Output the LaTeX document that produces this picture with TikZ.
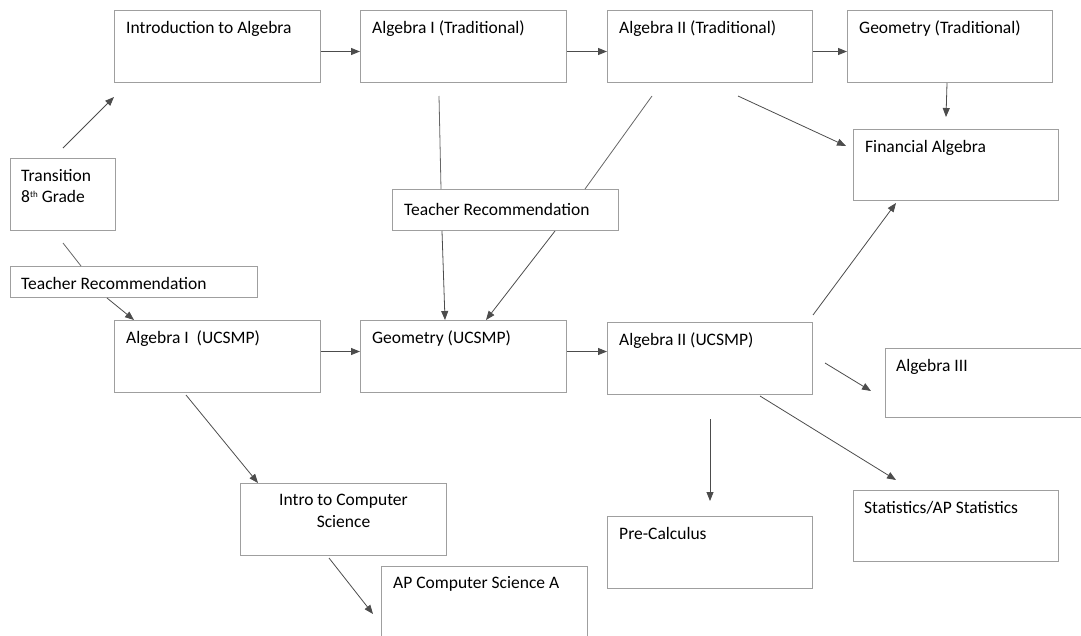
\documentclass[tikz,border=0pt]{standalone}
\usepackage{fontspec}
\setmainfont{Carlito}
\usetikzlibrary{arrows.meta}
\tikzset{
  course/.style={draw=gray!75,line width=1pt,minimum width=206pt,minimum height=72pt,anchor=north west,inner sep=0pt},
  txt/.style={anchor=base west,inner sep=0pt,text=black,font=\fontsize{17.5}{21.5}\selectfont},
  arr/.style={-{Triangle[length=9pt,width=7pt]},line width=0.8pt,black!70},
  ln/.style={line width=0.8pt,black!60}
}
\begin{document}
\begin{tikzpicture}[x=1pt,y=-1pt]
\useasboundingbox (0,0) rectangle (1081,635);
% top row
\node[course] (intro) at (114,10) {};
\node[course] (alg1t) at (360,10) {};
\node[course,minimum width=205pt] (alg2t) at (607,10) {};
\node[course,minimum width=205pt] (geot) at (847,10) {};
\node[txt] (introtxt) at ([shift={(12,23)}]intro.north west) {Introduction to Algebra};
\node[txt] (alg1ttxt) at ([shift={(12,23)}]alg1t.north west) {Algebra I (Traditional)};
\node[txt] (alg2ttxt) at ([shift={(12,23)}]alg2t.north west) {Algebra II (Traditional)};
\node[txt] (geottxt) at ([shift={(12,23)}]geot.north west) {Geometry (Traditional)};
% left side
\node[course,minimum width=105pt] (trans) at (10,158) {};
\node[txt,anchor=north west,align=left] (transtxt) at ([shift={(11,11)}]trans.north west) {Transition\\8{\fontsize{9}{9}\selectfont\raisebox{5pt}{th}} Grade};
\node[course,minimum width=247pt,minimum height=31pt] (rec1) at (10,266) {};
\node[txt] (rec1txt) at ([shift={(11,23)}]rec1.north west) {Teacher Recommendation};
\node[course,minimum width=226pt,minimum height=41pt] (rec2) at (392,189) {};
\node[txt] (rec2txt) at ([shift={(12,26)}]rec2.north west) {Teacher Recommendation};
\node[course,minimum width=205pt,minimum height=71pt] (fin) at (853,129) {};
\node[txt] (fintxt) at ([shift={(12,23)}]fin.north west) {Financial Algebra};
% UCSMP row
\node[course] (alg1u) at (114,320) {};
\node[course] (geou) at (360,320) {};
\node[course,minimum width=205pt] (alg2u) at (607,322) {};
\node[course,minimum width=205pt,minimum height=69pt] (alg3) at (885,348) {};
\node[txt] (alg1utxt) at ([shift={(12,23)}]alg1u.north west) {Algebra I\ \ (UCSMP)};
\node[txt] (geoutxt) at ([shift={(12,23)}]geou.north west) {Geometry (UCSMP)};
\node[txt] (alg2utxt) at ([shift={(12,23)}]alg2u.north west) {Algebra II (UCSMP)};
\node[txt] (alg3txt) at ([shift={(11,23)}]alg3.north west) {Algebra III};
% bottom
\node[course] (ics) at (240,483) {};
\node[txt,anchor=north,align=center] (icstxt) at ([yshift=-11pt]ics.north) {Intro to Computer\\Science};
\node[course] (apcs) at (381,566) {};
\node[txt] (apcstxt) at ([shift={(12,22)}]apcs.north west) {AP Computer Science A};
\node[course,minimum width=205pt] (precalc) at (607,516) {};
\node[txt] (precalctxt) at ([shift={(12,23)}]precalc.north west) {Pre-Calculus};
\node[course,minimum width=205pt,minimum height=71pt] (stats) at (853,490) {};
\node[txt] (statstxt) at ([shift={(11,23)}]stats.north west) {Statistics/AP Statistics};
% connectors
\draw[arr] ([yshift=10pt]trans.north) -- ([yshift=-14pt]intro.south west);
\draw[arr] ([yshift=-5pt]intro.east) -- ([yshift=-5pt]alg1t.west);
\draw[arr] ([yshift=-5pt]alg1t.east) -- ([yshift=-5pt]alg2t.west);
\draw[arr] ([yshift=-5pt]alg2t.east) -- ([yshift=-5pt]geot.west);
\draw[arr] ([xshift=-3pt]geot.south) -- ([shift={(93,-12)}]fin.north west);
\draw[arr] ([shift={(131,13)}]alg2t.south west) -- ([shift={(-7,17)}]fin.north west);
\draw[ln] ([shift={(79,13)}]alg1t.south west) -- ([shift={(49,0)}]rec2.north west);
\draw[arr] ([shift={(50,0)}]rec2.south west) -- ([shift={(85,0)}]geou.north west);
\draw[ln] ([shift={(45,13)}]alg2t.south west) -- ([shift={(-34,0)}]rec2.north east);
\draw[arr] ([shift={(-64,0)}]rec2.south east) -- ([shift={(126,0)}]geou.north west);
\draw[ln] ([yshift=-12pt]trans.south) -- ([shift={(71,0)}]rec1.north west);
\draw[arr] ([shift={(97,0)}]rec1.south west) -- ([shift={(20,0)}]alg1u.north west);
\draw[arr] ([yshift=5pt]alg1u.east) -- ([yshift=5pt]geou.west);
\draw[arr] ([yshift=5pt]geou.east) -- ([shift={(0,-7)}]alg2u.west);
\draw[arr] ([shift={(72,2)}]alg1u.south west) -- ([shift={(18,0)}]ics.north west);
\draw[arr] ([shift={(89,2)}]ics.south west) -- ([shift={(-8,48)}]apcs.north west);
\draw[arr] ([shift={(0,-7)}]alg2u.north east) -- ([shift={(43,2)}]fin.south west);
\draw[arr] ([shift={(12,41)}]alg2u.north east) -- ([shift={(-14,43)}]alg3.north west);
\draw[arr] ([yshift=-24pt]alg2u.south) -- ([yshift=15pt]precalc.north);
\draw[arr] ([shift={(153,1)}]alg2u.south west) -- ([shift={(43,-10)}]stats.north west);
\end{tikzpicture}
\end{document}
